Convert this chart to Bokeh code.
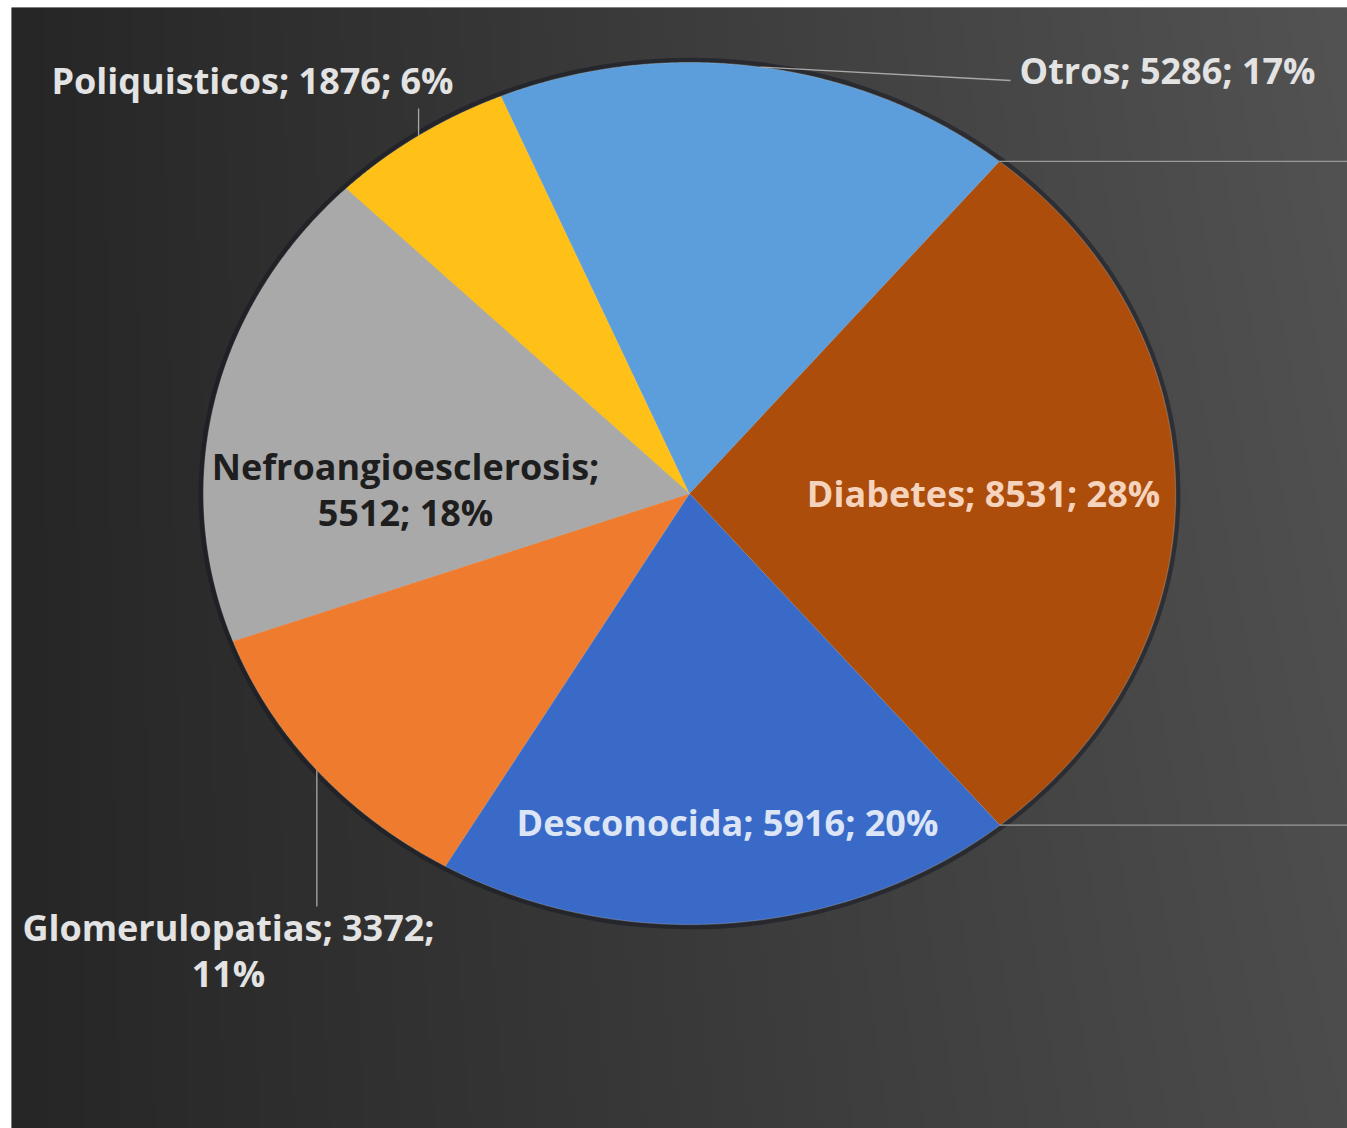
import numpy as np
from bokeh.plotting import figure
from bokeh.models import Range1d, ColumnDataSource
from bokeh.core.properties import value
from bokeh.embed import file_html
from bokeh.resources import INLINE

# ---------------- data ----------------
categories = ["Diabetes", "Desconocida", "Glomerulopatias",
              "Nefroangioesclerosis", "Poliquisticos", "Otros"]
counts = [8531, 5916, 3372, 5512, 1876, 5286]
percents = [28, 20, 11, 18, 6, 17]

# ---------------- style / layout ----------------
slice_colors = ["#AC4D0C", "#3A6AC8", "#EE7B2E", "#A9A9A9", "#FFC117", "#5C9EDB"]
label_colors = ["#F6D3BC", "#DCE5F6", "#E3E3E3", "#1E1E1E", "#E3E3E3", "#E3E3E3"]
# where the label line break goes: 0 = none, 1 = after first ';', 2 = after second ';'
label_breaks = [0, 0, 2, 1, 0, 0]
# label centres in page pixels
label_pos = [(983, 493), (727, 822), (228, 950), (405, 489), (252, 80), (1167, 70)]

W, H = 1347, 1128
LB, TB = 11, 7                        # white strips left / top
CX, CY, RX, RY = 689, 493, 486, 431   # pie centre / radii (page px)
START_DEG = 50.4
FONT = "Open Sans"
FSIZE = "36px"


def dx(px):
    return (px - CX) / RX


def dy(py):
    return (CY - py) / RY


p = figure(width=W, height=H,
           x_range=Range1d(dx(LB), dx(W)), y_range=Range1d(dy(H), dy(TB)),
           output_backend="svg", toolbar_location=None,
           min_border_left=LB, min_border_top=TB, min_border_right=0, min_border_bottom=0,
           x_axis_location=None, y_axis_location=None)
p.grid.visible = False
p.outline_line_color = None
p.background_fill_color = "#363636"
p.border_fill_color = "#FFFFFF"

# ---------------- background gradient ----------------
gh, gw = (H - TB) // 4, (W - LB) // 4 + 1
gx = np.linspace(0, 1, gw)
gy = np.linspace(0, 1, gh)          # row 0 = bottom
GX, GY = np.meshgrid(gx, gy)
v = (38 + 45 * GX - 7 * GX * (1 - GY)).astype(np.uint8)
img = np.empty((gh, gw), dtype=np.uint32)
view = img.view(np.uint8).reshape(gh, gw, 4)
view[..., 0] = v
view[..., 1] = v
view[..., 2] = v
view[..., 3] = 255
p.image_rgba(image=[img], x=dx(LB), y=dy(H), dw=dx(W) - dx(LB), dh=dy(TB) - dy(H))

# ---------------- pie ----------------
total = float(sum(counts))
fr = np.array(counts) / total
a_start = np.deg2rad(START_DEG)
ends = a_start - 2 * np.pi * np.cumsum(fr)
starts = np.concatenate([[a_start], ends[:-1]])
mids = (starts + ends) / 2

xs_list, ys_list = [], []
for a0, a1 in zip(starts, ends):
    t = np.linspace(a0, a1, 240)
    xs_list.append(np.concatenate([[0.0], np.cos(t), [0.0]]))
    ys_list.append(np.concatenate([[0.0], np.sin(t), [0.0]]))

# soft dark rim behind pie
p.ellipse(x=0, y=0, width=2.012, height=2.014, fill_color=None,
          line_color="#151a22", line_width=4, line_alpha=0.55)

pie_src = ColumnDataSource(dict(xs=xs_list, ys=ys_list, color=slice_colors, name=categories))
p.patches("xs", "ys", source=pie_src, fill_color="color",
          line_color="#ffffff", line_alpha=0.18, line_width=1)

# ---------------- leader lines ----------------
lead_col = "#A9A9A9"
# Poliquisticos (index 4): vertical up from slice edge
i = 4
p.line([np.cos(mids[i]), np.cos(mids[i])], [np.sin(mids[i]), dy(108)],
       line_color=lead_col, line_width=1.3)
# Glomerulopatias (index 2): vertical down from slice edge
i = 2
p.line([np.cos(mids[i]), np.cos(mids[i])], [np.sin(mids[i]), dy(906)],
       line_color=lead_col, line_width=1.3)
# Otros (index 5): towards the label
i = 5
p.line([np.cos(mids[i]), dx(1010)], [np.sin(mids[i]), dy(80)],
       line_color=lead_col, line_width=1.3)
# two horizontal lines leaving the Diabetes slice edges to the right
for a in (starts[0], ends[0]):
    p.line([np.cos(a), dx(W)], [np.sin(a), np.sin(a)],
           line_color="#9a9a9a", line_width=1.3)

# ---------------- labels ----------------
texts = []
for c, n, pc, b in zip(categories, counts, percents, label_breaks):
    parts = [f"{c};", f"{n};", f"{pc}%"]
    if b == 0:
        s = " ".join(parts)
    elif b == 1:
        s = parts[0] + "\n" + " ".join(parts[1:])
    else:
        s = " ".join(parts[:2]) + "\n" + parts[2]
    texts.append(s)

lab_src = ColumnDataSource(dict(
    x=[dx(px) for px, _ in label_pos],
    y=[dy(py) for _, py in label_pos],
    text=texts, color=label_colors))
p.text(x="x", y="y", text="text", source=lab_src, text_color="color",
       text_font=value(FONT), text_font_style="bold", text_font_size=FSIZE,
       text_align="center", text_baseline="middle", text_line_height=0.95)

open("out.html", "w").write(file_html(p, INLINE))
